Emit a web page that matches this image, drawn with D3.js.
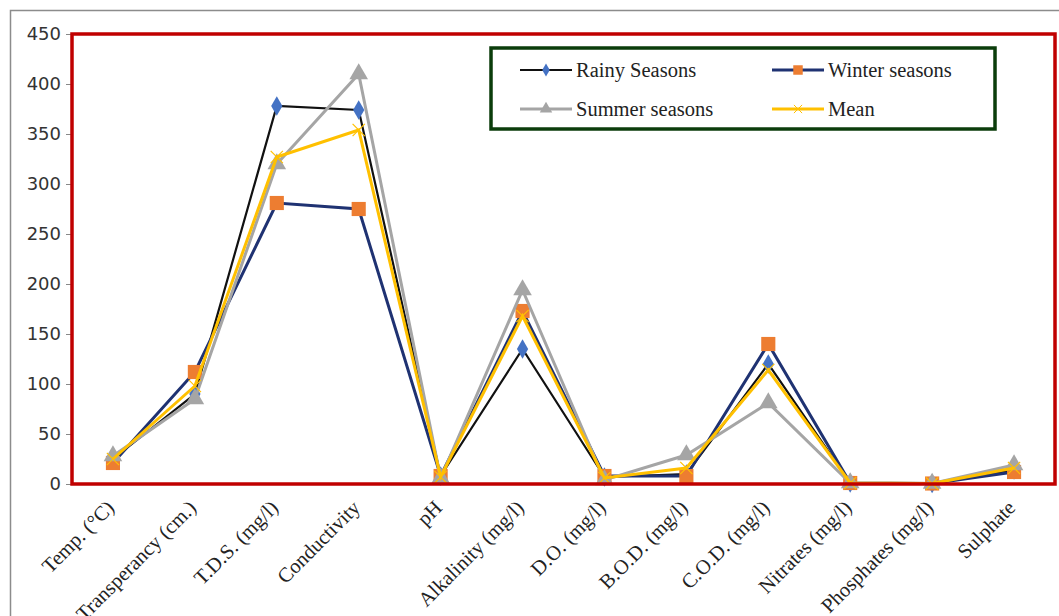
<!DOCTYPE html>
<html><head><meta charset="utf-8">
<script src="https://cdn.jsdelivr.net/npm/d3@7"></script>
<style>html,body{margin:0;padding:0;background:#fff;overflow:hidden}</style>
</head><body>
<svg id="c" width="1059" height="616"></svg>
<script>
const categories = ["Temp. (°C)","Transperancy (cm.)","T.D.S. (mg/l)","Conductivity","pH","Alkalinity (mg/l)","D.O. (mg/l)","B.O.D. (mg/l)","C.O.D. (mg/l)","Nitrates (mg/l)","Phosphates (mg/l)","Sulphate"];
const rainy  = [25, 90, 378, 374, 8, 135, 7, 10, 120, 1, 0.5, 14];
const winter = [21, 112, 281, 275, 8, 173, 8, 8, 140, 1, 0.5, 12];
const summer = [28, 85, 320, 410, 6, 194, 4, 29, 81, 1, 0.5, 19];
const mean   = [25, 98, 327, 354, 7, 168, 6, 16, 114, 1, 0.5, 16];
const yTicks = [0, 50, 100, 150, 200, 250, 300, 350, 400, 450];
const seriesNames = ["Rainy Seasons","Winter seasons","Summer seasons","Mean"];

const svg = d3.select("#c");
const L = 72, R = 1055, T = 34, B = 484;
const x = d3.scalePoint().domain(categories).range([L, R]).padding(0.5);
const y = d3.scaleLinear().domain([0, 450]).range([B, T]);

// outer frame
svg.append("rect").attr("x",10.5).attr("y",10.5).attr("width",1060).attr("height",620)
  .attr("fill","none").attr("stroke","#8c8c8c").attr("stroke-width",1.5);

// y axis
const ya = svg.append("g").attr("transform",`translate(${L},0)`)
  .call(d3.axisLeft(y).tickValues(yTicks).tickSize(6).tickPadding(5));
ya.select(".domain").remove();
ya.selectAll("line").attr("stroke","#888");
ya.selectAll("text").attr("font-family","DejaVu Sans, Arial, sans-serif").attr("font-size",18).attr("fill","#333");

// x axis labels
const xa = svg.append("g").attr("transform",`translate(0,${B})`)
  .call(d3.axisBottom(x).tickSize(0).tickPadding(0));
xa.select(".domain").remove();
xa.selectAll("text")
  .attr("font-family","Liberation Serif, Times New Roman, serif").attr("font-size",20.5).attr("fill","#222")
  .attr("text-anchor","end").attr("dy","0")
  .attr("transform","translate(2,25) rotate(-45)");

// series
const series = [
  {name: seriesNames[0], vals: rainy,  line:"#111111", marker:"diamond", fill:"#4472c4", stroke:"none", size:110, w:2.2},
  {name: seriesNames[1], vals: winter, line:"#1f3272", marker:"square",  fill:"#ed7d31", stroke:"none", size:200, w:3},
  {name: seriesNames[2], vals: summer, line:"#a5a5a5", marker:"triangle",fill:"#a5a5a5", stroke:"none", size:150, w:3},
  {name: seriesNames[3], vals: mean,   line:"#ffc000", marker:"x",       fill:"none", stroke:"#ffc000", size:150, w:3}
];
const lineGen = d3.line().x((d,i)=>x(categories[i])).y(d=>y(d));

function symbolPath(s){
  if (s.marker==="x") {
    const r = Math.sqrt(s.size)/2;
    return `M${-r},${-r}L${r},${r}M${-r},${r}L${r},${-r}`;
  }
  const t = {diamond:d3.symbolDiamond, square:d3.symbolSquare, triangle:d3.symbolTriangle}[s.marker];
  return d3.symbol().type(t).size(s.size)();
}

series.forEach(s=>{
  const g = svg.append("g");
  g.append("path").datum(s.vals).attr("d",lineGen).attr("fill","none")
    .attr("stroke",s.line).attr("stroke-width",s.w).attr("stroke-linejoin","miter");
  g.selectAll("path.m").data(s.vals).enter().append("path").attr("class","m")
    .attr("d",symbolPath(s))
    .attr("transform",(d,i)=>`translate(${x(categories[i])},${y(d)})`)
    .attr("fill",s.fill).attr("stroke",s.stroke).attr("stroke-width",1.2);
});

// red plot border
svg.append("rect").attr("x",L).attr("y",T).attr("width",R-L).attr("height",B-T)
  .attr("fill","none").attr("stroke","#c00000").attr("stroke-width",3.5);

// legend
const lg = svg.append("g");
lg.append("rect").attr("x",491).attr("y",48).attr("width",504).attr("height",81)
  .attr("fill","#fff").attr("stroke","#0b3d0b").attr("stroke-width",3.5);
const pos = [[520,70],[772,70],[520,109],[772,109]];
series.forEach((s,i)=>{
  const [lx,ly] = pos[i];
  lg.append("line").attr("x1",lx).attr("x2",lx+52).attr("y1",ly).attr("y2",ly)
    .attr("stroke",s.line).attr("stroke-width",s.w);
  const sm = Object.assign({}, s, {size: s.size*0.45});
  lg.append("path").attr("d",symbolPath(sm)).attr("transform",`translate(${lx+26},${ly})`)
    .attr("fill",s.fill).attr("stroke",s.stroke).attr("stroke-width",1);
  lg.append("text").attr("x",lx+56).attr("y",ly).attr("dy","0.35em")
    .attr("font-family","Liberation Serif, Times New Roman, serif").attr("font-size",20.5).attr("fill","#222")
    .text(s.name);
});
</script>
</body></html>
